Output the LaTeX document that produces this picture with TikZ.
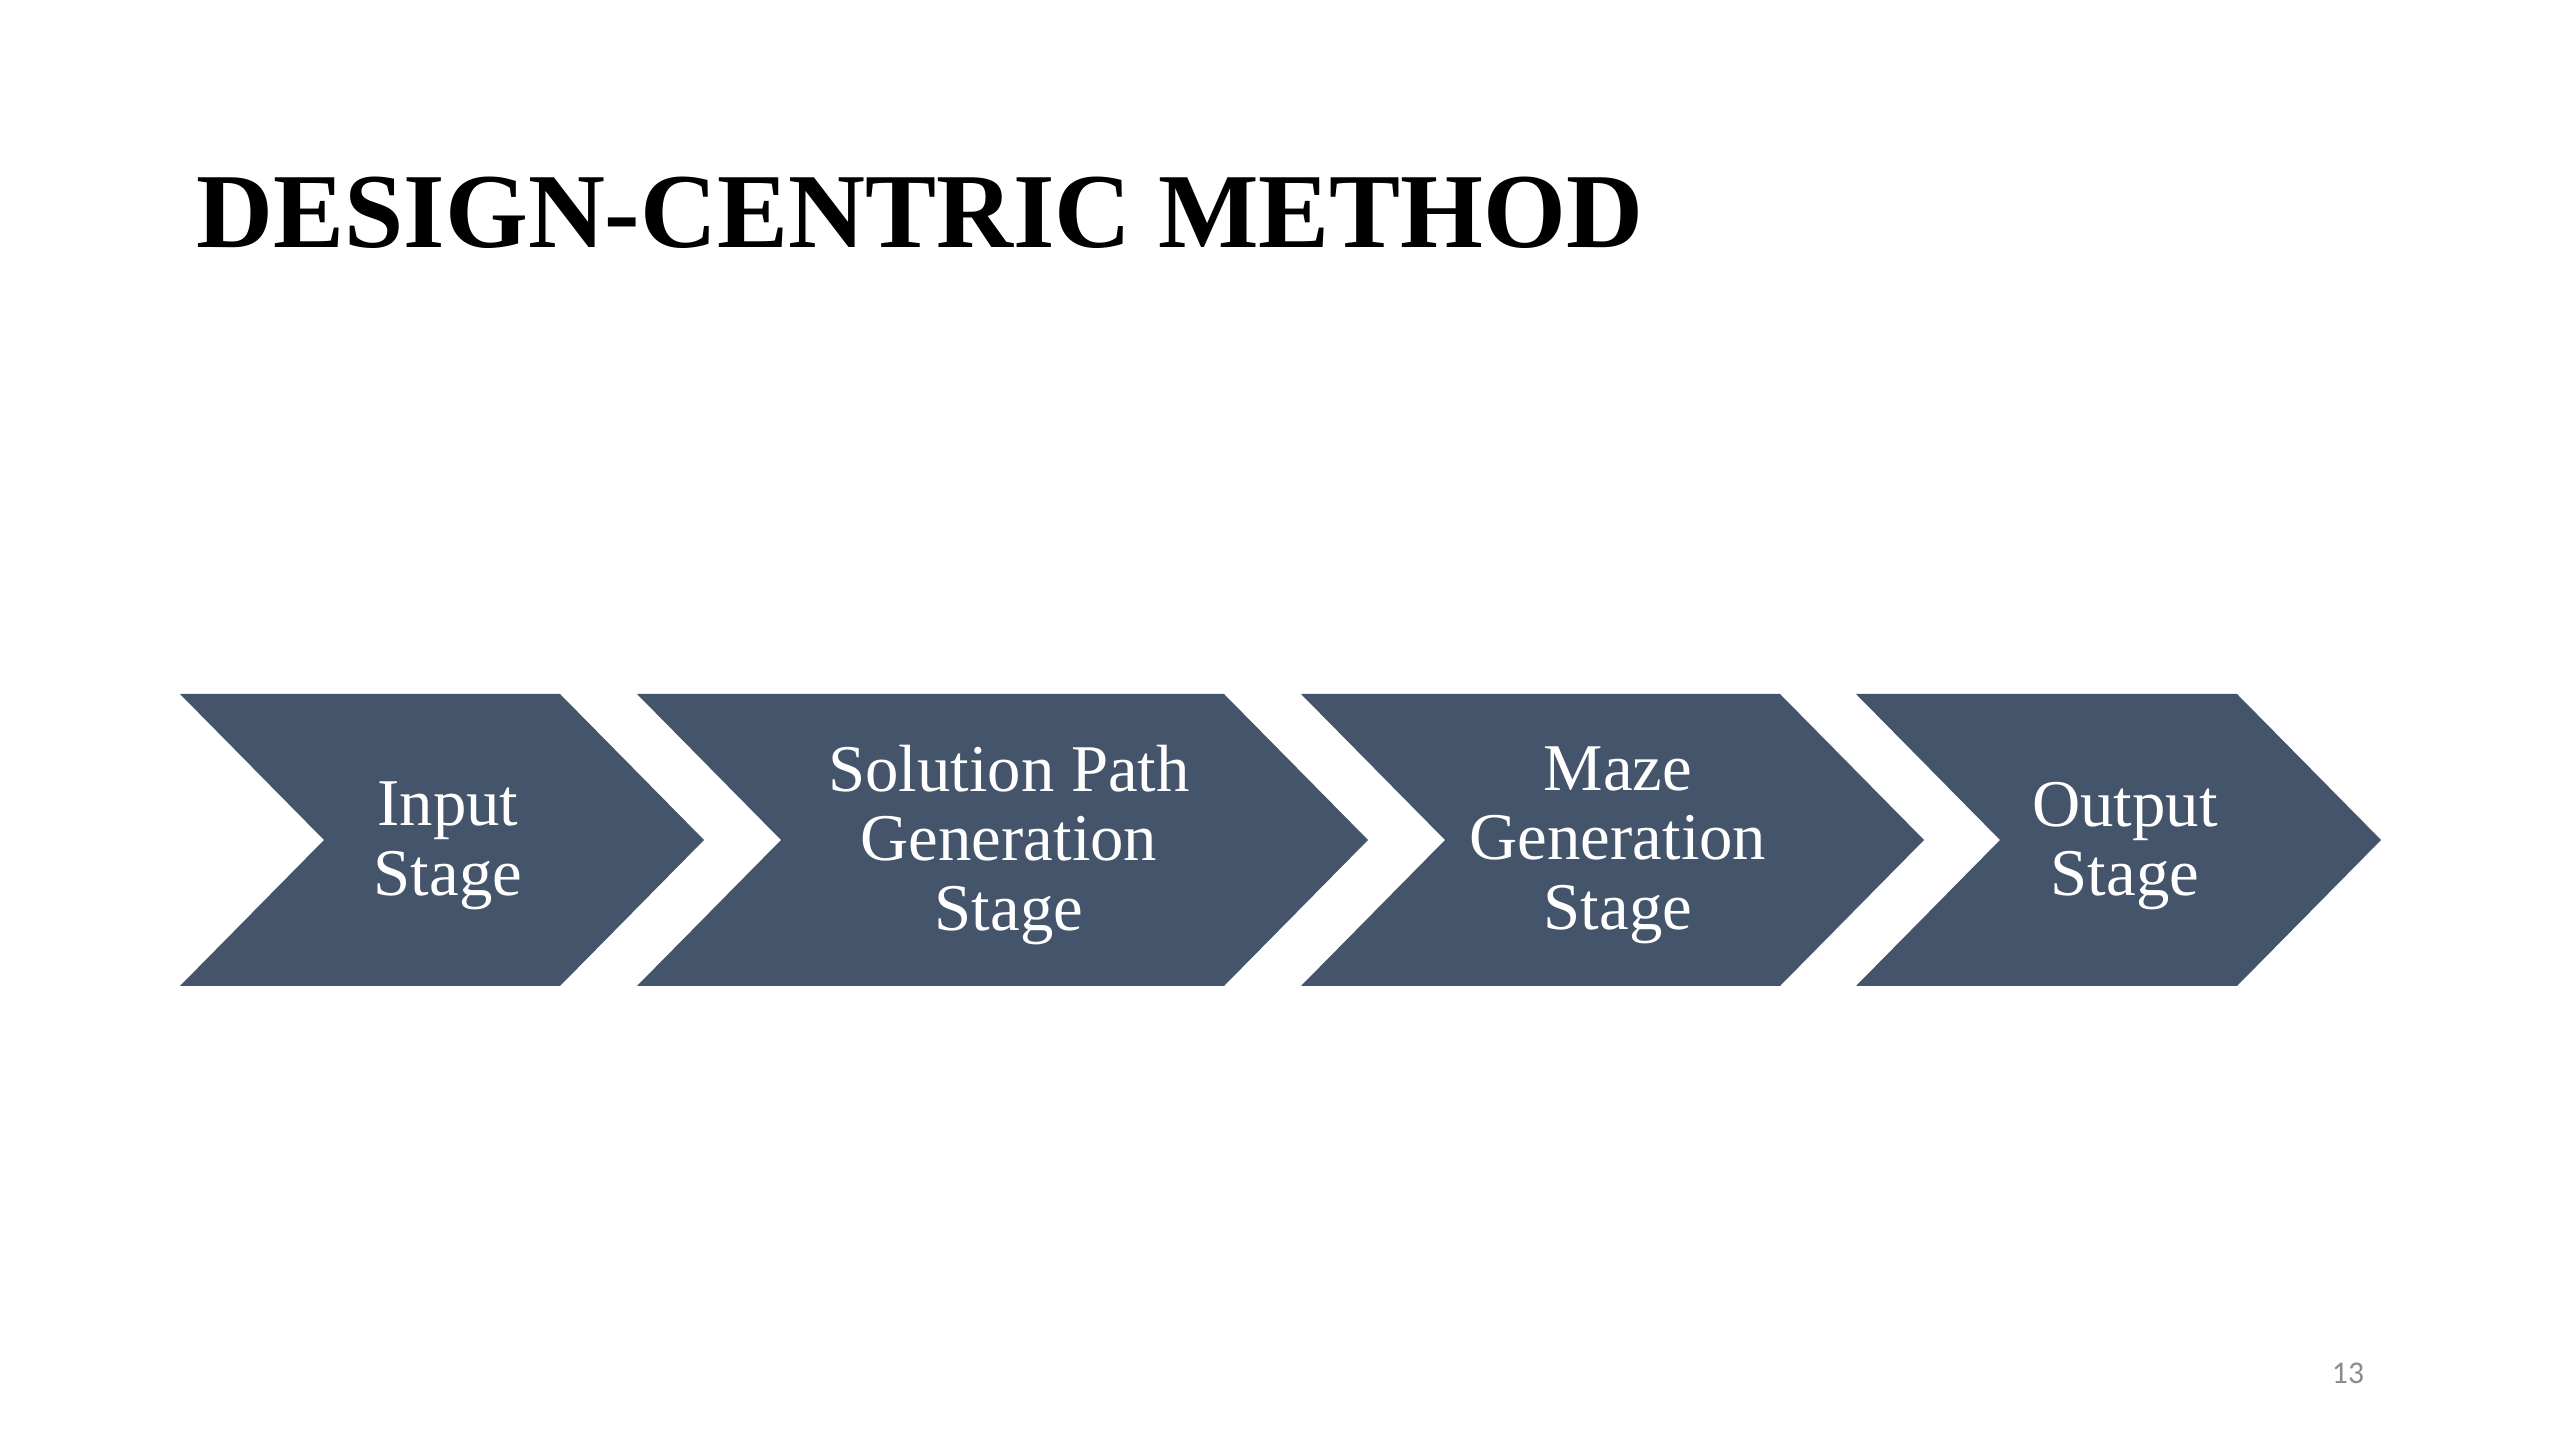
\documentclass[tikz,border=0pt]{standalone}
\usepackage{fontspec}
\setmainfont{Liberation Serif}
\newfontfamily\pagenumfont{Carlito}
\definecolor{chev}{HTML}{44546A}
\definecolor{pnum}{HTML}{8C8C8C}
\begin{document}
\begin{tikzpicture}[x=0.1mm,y=-0.1mm,
  chevfill/.style={fill=chev},
  stagetext/.style={text=white,align=center,font=\fontsize{19}{19.8}\selectfont,inner sep=0pt},
  titletext/.style={font=\fontsize{30.3}{36}\selectfont\bfseries,inner sep=0pt,anchor=base west},
]
\useasboundingbox[fill=white] (0,0) rectangle (2560,1440);
\node[titletext] (title) at (196,248) {DESIGN-CENTRIC METHOD};
\def\dd{144}
\foreach \L/\R/\n in {180/560/1,637/1224/2,1301/1780/3,1856/2237/4}{
  \fill[chevfill] (\L,694) -- (\R,694) -- (\R+\dd,840) -- (\R,986) -- (\L,986) -- (\L+\dd,840) -- cycle;
}
\node[stagetext] (s1) at (448,846) {Input\\Stage};
\node[stagetext] (s2) at (1009,845) {Solution Path\\Generation\\Stage};
\node[stagetext] (s3) at (1618,845) {Maze\\Generation\\Stage};
\node[stagetext] (s4) at (2125,846) {Output\\Stage};
\node[text=pnum,font=\pagenumfont\fontsize{9}{10}\selectfont,inner sep=0pt] (pn) at (2348,1373) {13};
\end{tikzpicture}
\end{document}
